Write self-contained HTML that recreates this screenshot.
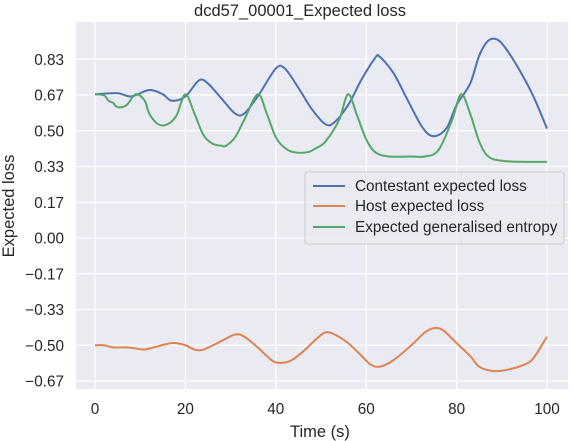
<!DOCTYPE html>
<html><head><meta charset="utf-8"><style>
body{margin:0;background:#fff;}
svg{display:block;font-family:"Liberation Sans",Arial,sans-serif;}
</style></head><body>
<svg id="chart" width="572" height="441">
<rect x="76" y="22" width="492" height="367" fill="#eaeaf2"/>
<g id="grid"></g><g id="series"></g><g id="ticks"></g>
<text x="300" y="16" text-anchor="middle" font-size="16.5" fill="#262626">dcd57_00001_Expected loss</text>
<text x="320" y="437" text-anchor="middle" font-size="16.5" fill="#262626">Time (s)</text>
<text transform="translate(14,206) rotate(-90)" text-anchor="middle" font-size="16.5" fill="#262626">Expected loss</text>
<g>
<rect x="305" y="172" width="259" height="72" rx="3" fill="#eaeaf2" fill-opacity="0.8" stroke="#ccc"/>
<line x1="313" x2="345" y1="186" y2="186" stroke="#4c72b0" stroke-width="2"/>
<text x="355" y="191" font-size="15.3" fill="#262626">Contestant expected loss</text>
<line x1="313" x2="345" y1="206" y2="206" stroke="#dd8452" stroke-width="2"/>
<text x="355" y="211" font-size="15.3" fill="#262626">Host expected loss</text>
<line x1="313" x2="345" y1="227" y2="227" stroke="#55a868" stroke-width="2"/>
<text x="355" y="232" font-size="15.3" fill="#262626">Expected generalised entropy</text>
</g>
</svg>
<script>
const xTicks=[0,20,40,60,80,100];
const yTicks=[-4,-3,-2,-1,0,1,2,3,4,5].map(k=>k/6);
const yTickLabels=["−0.67","−0.50","−0.33","−0.17","0.00","0.17","0.33","0.50","0.67","0.83"];
const contT=[0,5,8,12,15,17,20,23,25,28,31,33,36,40,42,45,48,51,53,56,59,62,63,66,69,72,74,76,78,80,83,85,87,89,91,94,97,100];
const contV=[0.67,0.675,0.66,0.69,0.67,0.64,0.66,0.735,0.72,0.65,0.58,0.58,0.66,0.79,0.79,0.70,0.60,0.53,0.54,0.62,0.74,0.84,0.845,0.77,0.65,0.53,0.48,0.48,0.52,0.62,0.72,0.85,0.92,0.925,0.88,0.78,0.66,0.51];
const hostT=[0,2,4,7,9,11,13,17,20,22,24,28,31,33,36,38,40,43,46,49,51,53,56,59,61,63,66,70,73,75,77,80,83,85,88,91,95,97,100];
const hostV=[-0.50,-0.50,-0.51,-0.51,-0.515,-0.52,-0.51,-0.49,-0.50,-0.52,-0.52,-0.48,-0.45,-0.46,-0.51,-0.55,-0.58,-0.575,-0.53,-0.47,-0.44,-0.45,-0.49,-0.55,-0.59,-0.60,-0.57,-0.50,-0.44,-0.42,-0.43,-0.49,-0.55,-0.60,-0.62,-0.615,-0.59,-0.56,-0.46];
const entT=[0,2,3,4,5,7,9,11,12,14,16,18,20,22,24,26,28,29,31,33,36,38,40,42,44,47,49,51,54,56,58,60,62,65,70,73,76,79,81,83,85,87,90,95,100];
const entV=[0.67,0.665,0.64,0.63,0.61,0.62,0.67,0.64,0.58,0.53,0.53,0.57,0.67,0.58,0.48,0.44,0.43,0.43,0.47,0.55,0.67,0.58,0.47,0.42,0.40,0.40,0.42,0.45,0.55,0.67,0.57,0.46,0.40,0.38,0.38,0.38,0.41,0.55,0.67,0.58,0.45,0.38,0.36,0.355,0.355];
const NS="http://www.w3.org/2000/svg";
const X=t=>95+t*4.52, Y=v=>238-v*214.5;
const grid=document.getElementById('grid'),ticks=document.getElementById('ticks'),ser=document.getElementById('series');
function mk(tag,a,p){const e=document.createElementNS(NS,tag);for(const k in a)e.setAttribute(k,a[k]);p.appendChild(e);return e;}
xTicks.forEach(t=>{
  const l=mk('line',{x1:X(t),x2:X(t),y1:22,y2:389,stroke:'#fff','stroke-width':1.2},grid);
  
  
  const tx=mk('text',{x:X(t),y:414,'text-anchor':'middle','font-size':15.3,fill:'#262626'},ticks);
  tx.textContent=t;
  
  
});
yTicks.forEach((v,i)=>{
  const l=mk('line',{x1:76,x2:568,y1:Y(v),y2:Y(v),stroke:'#fff','stroke-width':1.2},grid);
  
  
  const tx=mk('text',{x:64,y:Y(v)+5.5,'text-anchor':'end','font-size':15.3,fill:'#262626'},ticks);
  tx.textContent=yTickLabels[i];
  
  
});
function path(ts,vs){
  const p=ts.map((t,i)=>[X(t),Y(vs[i])]);
  let d='M'+p[0][0]+','+p[0][1];
  for(let i=0;i<p.length-1;i++){
    const p0=p[i-1]||p[i],p1=p[i],p2=p[i+1],p3=p[i+2]||p2;
    const c1=[p1[0]+(p2[0]-p0[0])/6,p1[1]+(p2[1]-p0[1])/6],c2=[p2[0]-(p3[0]-p1[0])/6,p2[1]-(p3[1]-p1[1])/6];
    d+=` C${c1[0]},${c1[1]} ${c2[0]},${c2[1]} ${p2[0]},${p2[1]}`;
  }
  return d;
}
const c=mk('path',{d:path(contT,contV),fill:'none',stroke:'#4c72b0','stroke-width':2},ser);


const h=mk('path',{d:path(hostT,hostV),fill:'none',stroke:'#dd8452','stroke-width':2},ser);


const e=mk('path',{d:path(entT,entV),fill:'none',stroke:'#55a868','stroke-width':2},ser);


</script>
</body></html>
